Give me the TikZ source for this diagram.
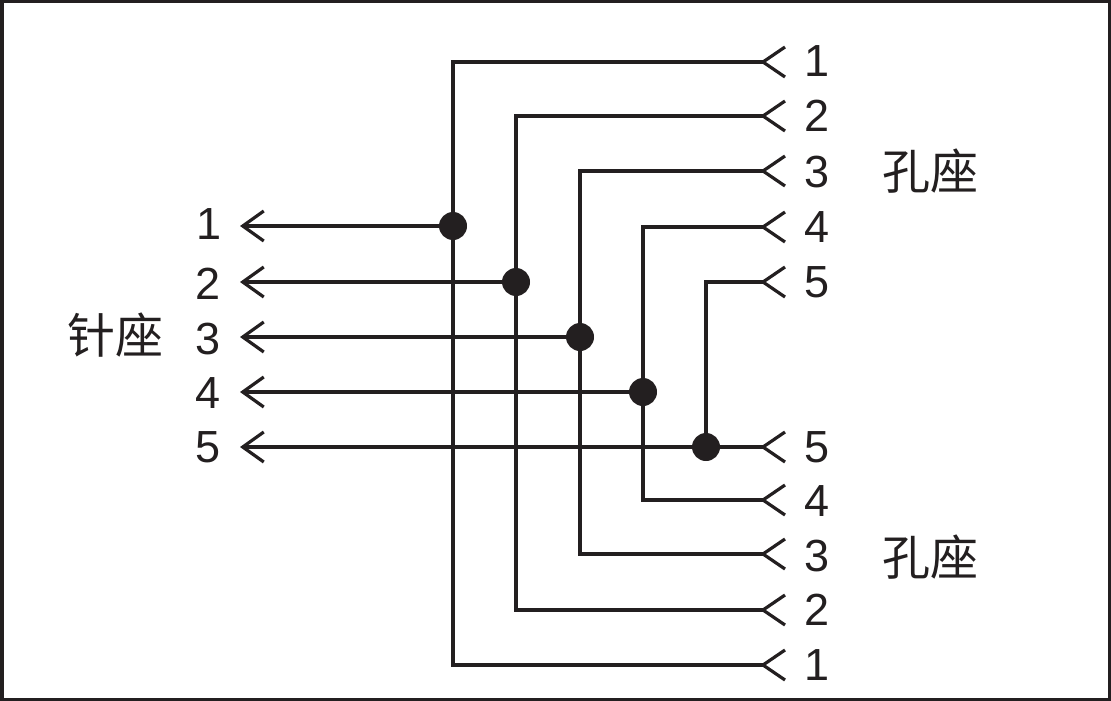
\documentclass[tikz,border=0pt]{standalone}
\usepackage{fontspec}
\setmainfont{Liberation Sans}
\newfontfamily\cjk{Noto Sans CJK SC}
\usetikzlibrary{arrows.meta,calc}
\definecolor{ink}{HTML}{231F20}
\tikzset{
	wire/.style={line width=3.2pt, color=ink},
	pinarrow/.style={wire, -{Straight Barb[length=21pt, width=30pt, line width=3.2pt]}},
	num/.style={font=\fontsize{45}{45}\selectfont, text=ink, inner sep=0pt},
	seatlabel/.style={font=\cjk\fontsize{48}{48}\selectfont, text=ink, inner sep=0pt},
}
\def\socket(#1){\draw[wire] ($(#1)+(22,-15)$) -- (#1) -- ($(#1)+(22,15)$);}

\begin{document}
\begin{tikzpicture}[x=1pt, y=-1pt]
		%%%%% START %%%%%
		\useasboundingbox (0, 0) rectangle (1111, 701);
		\draw[line width=3.5pt, color=ink] (1.75, 1.75) rectangle (1109.25, 699.25);
		
		% pin side
		\coordinate (p1) at (240, 226);
		\coordinate (p2) at (240, 282);
		\coordinate (p3) at (240, 337);
		\coordinate (p4) at (240, 392);
		\coordinate (p5) at (240, 447);
		\node[num] (n1) at (209, 224) {1};
		\node[num] (n2) at (208, 284) {2};
		\node[num] (n3) at (208, 339) {3};
		\node[num] (n4) at (208, 393) {4};
		\node[num] (n5) at (208, 447) {5};
		\node[seatlabel] (pinlabel) at (115, 335) {针座};
		
		% junctions
		\coordinate (j1) at (453, 226);
		\coordinate (j2) at (516, 282);
		\coordinate (j3) at (580, 337);
		\coordinate (j4) at (643, 392);
		\coordinate (j5) at (706, 447);
		
		% upper socket
		\coordinate (t1) at (763, 62);
		\coordinate (t2) at (763, 116);
		\coordinate (t3) at (763, 171);
		\coordinate (t4) at (763, 227);
		\coordinate (t5) at (763, 282);
		\node[num] (u1) at (817, 61) {1};
		\node[num] (u2) at (817, 116) {2};
		\node[num] (u3) at (817, 172) {3};
		\node[num] (u4) at (817, 227) {4};
		\node[num] (u5) at (817, 282) {5};
		\node[seatlabel] (toplabel) at (930, 171) {孔座};
		
		% lower socket
		\coordinate (b5) at (763, 447);
		\coordinate (b4) at (763, 500);
		\coordinate (b3) at (763, 554);
		\coordinate (b2) at (763, 610);
		\coordinate (b1) at (763, 665);
		\node[num] (l5) at (817, 447) {5};
		\node[num] (l4) at (817, 501) {4};
		\node[num] (l3) at (817, 556) {3};
		\node[num] (l2) at (817, 610) {2};
		\node[num] (l1) at (817, 665) {1};
		\node[seatlabel] (botlabel) at (930, 557) {孔座};
		
		% wires
		\draw[wire] (t1) -| (j1) |- (b1);
		\draw[wire] (t2) -| (j2) |- (b2);
		\draw[wire] (t3) -| (j3) |- (b3);
		\draw[wire] (t4) -| (j4) |- (b4);
		\draw[wire] (t5) -| (j5) -- (b5);
		
		\draw[pinarrow] (j1) -- (p1);
		\draw[pinarrow] (j2) -- (p2);
		\draw[pinarrow] (j3) -- (p3);
		\draw[pinarrow] (j4) -- (p4);
		\draw[pinarrow] (j5) -- (p5);
		
		\fill[ink] (j1) circle (14);
		\fill[ink] (j2) circle (14);
		\fill[ink] (j3) circle (14);
		\fill[ink] (j4) circle (14);
		\fill[ink] (j5) circle (14);
		
		\socket(t1) \socket(t2) \socket(t3) \socket(t4) \socket(t5)
		\socket(b1) \socket(b2) \socket(b3) \socket(b4) \socket(b5)
		
		%%%%% END %%%%%
	\end{tikzpicture}
\end{document}
